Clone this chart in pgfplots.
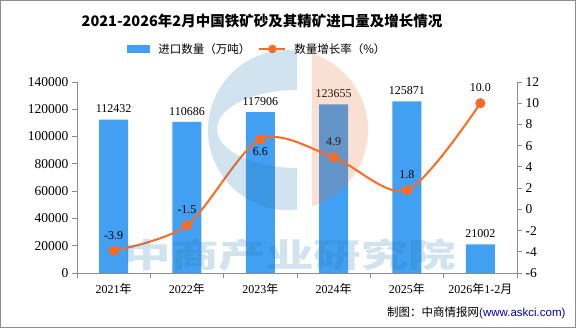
\documentclass[border=0pt]{standalone}
\usepackage{pgfplots}
\pgfplotsset{compat=1.18}
\usepackage{fontspec}
\setmainfont{Liberation Serif}
\newfontfamily\cjk{Noto Sans CJK SC}
\newfontfamily\sans{Liberation Sans}
\definecolor{barblue}{HTML}{42A0F2}
\definecolor{lineorg}{HTML}{FF6A22}
\definecolor{axgray}{HTML}{8C8C8C}
\definecolor{wmblue}{RGB}{40,121,174}
\definecolor{wmorg}{RGB}{231,110,45}
\begin{document}
\begin{tikzpicture}
\useasboundingbox (0pt,0pt) rectangle (576pt,328pt);
\draw[axgray, line width=1pt] (0.5pt,0.5pt) rectangle (575.5pt,327.5pt);
\node[font=\cjk\bfseries\fontsize{14.5}{16}\selectfont] at (262pt,307pt) {2021-2026年2月中国铁矿砂及其精矿进口量及增长情况};
\node[anchor=east, font=\fontsize{11.5}{13}\selectfont] at (569pt,15pt) {{\cjk 制图：中商情报网}{\sans\color{blue!70!black}(www.askci.com)}};
\begin{axis}[
  at={(77pt,55pt)}, anchor=south west, scale only axis, width=440pt, height=191pt,
  xmin=-0.5, xmax=5.5, ymin=0, ymax=140000,
  axis y line*=left, axis x line*=bottom,
  axis line style={axgray, line width=0.8pt},
  ytick={0,20000,...,140000},
  scaled y ticks=false,
  yticklabel={\pgfmathprintnumber[fixed,precision=0,1000 sep={},assume math mode=true]{\tick}},
  yticklabel style={font=\fontsize{13.5}{15}\selectfont},
  xtick={0,...,5}, major x tick style={draw=none},
  xticklabels={{2021{\cjk 年}},{2022{\cjk 年}},{2023{\cjk 年}},{2024{\cjk 年}},{2025{\cjk 年}},{2026{\cjk 年}1-2{\cjk 月}}},
  xticklabel style={font=\fontsize{12}{14}\selectfont, yshift=-2pt},
  minor xtick={-0.5,0.5,...,5.5},
  minor tick length=5pt,
  major tick length=5pt,
  tick style={axgray, line width=0.8pt},
  tick align=outside,
  legend columns=2,
  legend style={at={(0.41,1.173)}, anchor=center, draw=none, fill=none, font=\cjk\fontsize{11.5}{13}\selectfont, column sep=6pt},
  clip=false,
]
\addplot[ybar, bar width=29pt, fill=barblue, draw=none,
  nodes near coords, point meta=explicit symbolic,
  nodes near coords style={font=\fontsize{12}{13}\selectfont, text=black, yshift=3pt},
  legend image code/.code={\fill[barblue] (0pt,-4pt) rectangle (23pt,4pt);}]
  coordinates {(0,112432)[112432] (1,110686)[110686] (2,117906)[117906] (3,123655)[123655] (4,125871)[125871] (5,21002)[21002]};
\addlegendentry{进口数量（万吨）}
\addlegendimage{legend image code/.code={\draw[lineorg,line width=2pt](0pt,0pt)--(26pt,0pt); \fill[lineorg] (13pt,0pt) circle (4pt);}}
\addlegendentry{数量增长率（\%）}
\end{axis}
\begin{axis}[
  at={(77pt,55pt)}, anchor=south west, scale only axis, width=440pt, height=191pt,
  xmin=-0.5, xmax=5.5, ymin=-6, ymax=12,
  axis y line*=right, axis x line=none,
  axis line style={axgray, line width=0.8pt},
  ytick={-6,-4,...,12},
  yticklabel={\pgfmathprintnumber[fixed,precision=0,assume math mode=true]{\tick}},
  yticklabel style={font=\fontsize{13.5}{15}\selectfont},
  tick style={axgray, line width=0.8pt},
  major tick length=5pt,
  tick align=outside,
  clip=false,
]
\addplot[lineorg, line width=2pt, smooth, mark=*, mark size=4pt, mark options={fill=lineorg, draw=lineorg}]
  coordinates {(0,-3.9) (1,-1.5) (2,6.6) (3,4.9) (4,1.8) (5,10.0)};
\addplot[draw=none, mark=none, nodes near coords, point meta=explicit symbolic,
  nodes near coords style={font=\fontsize{12}{13}\selectfont, text=black, anchor=south, yshift=8pt}]
  coordinates {(0,-3.9)[-3.9] (1,-1.5)[-1.5] (3,4.9)[4.9] (4,1.8)[1.8] (5,10.0)[10.0]};
\addplot[draw=none, mark=none, nodes near coords, point meta=explicit symbolic,
  nodes near coords style={font=\fontsize{12}{13}\selectfont, text=black, anchor=north, yshift=-5pt}]
  coordinates {(2,6.6)[6.6]};
\end{axis}
% watermark logo
\begin{scope}
\clip (150pt,100pt) rectangle (297pt,300pt);
\fill[wmblue, fill opacity=0.21, even odd rule] (288pt,198pt) circle (80pt) (297pt,199pt) ellipse (80pt and 39pt);
\end{scope}
\begin{scope}
\clip (312pt,100pt) rectangle (400pt,300pt);
\fill[wmorg, fill opacity=0.21] (288pt,198pt) circle (80pt);
\end{scope}
\node[text=wmblue, text opacity=0.21, font=\cjk\bfseries\fontsize{33}{36}\selectfont, xscale=1.44] at (290pt,73pt) {中商产业研究院};
\end{tikzpicture}
\end{document}
